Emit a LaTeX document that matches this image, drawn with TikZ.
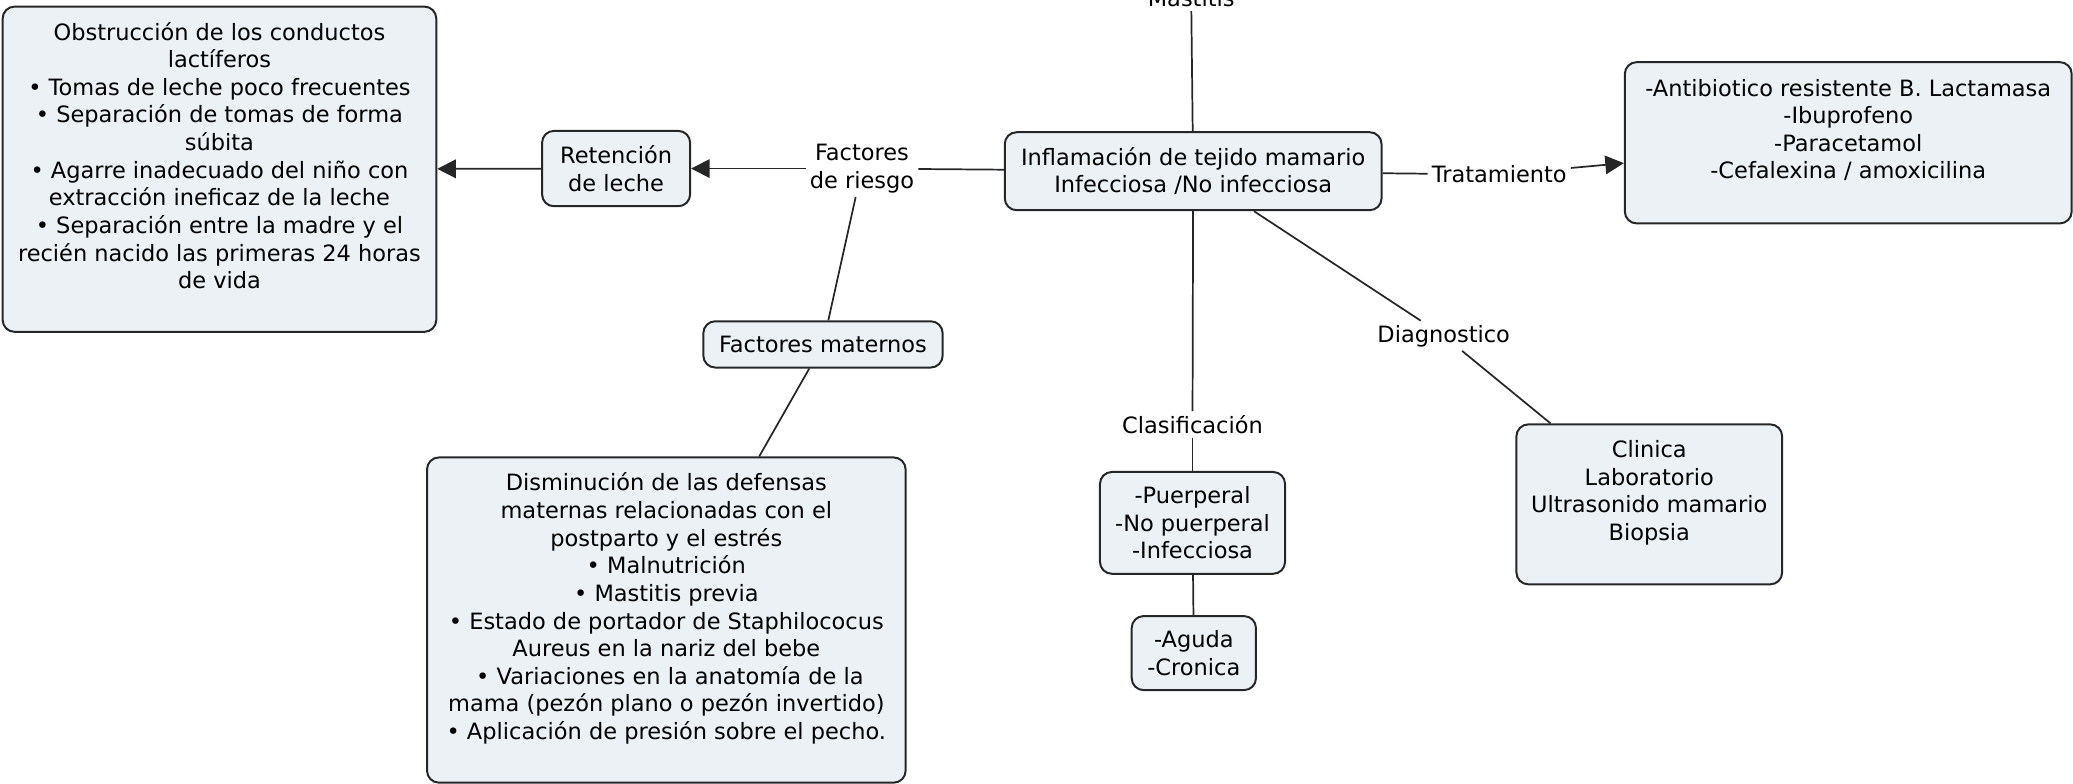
\documentclass[tikz,border=0pt]{standalone}
\usepackage{fontspec}
\setmainfont{DejaVu Sans}
\usetikzlibrary{arrows.meta}
\definecolor{cajafill}{RGB}{235,241,244}

\begin{document}
\begin{tikzpicture}[x=1pt,y=1pt,
	caja/.style={draw=black!85,line width=1.5pt,fill=cajafill,rounded corners=9pt,align=center,inner sep=2pt,font=\fontsize{17}{20.9}\selectfont},
	enlace/.style={inner sep=3pt,align=center,font=\fontsize{17}{20.9}\selectfont},
	linea/.style={line width=1.3pt,draw=black!85},
	flecha/.style={linea,-{Triangle[length=14pt,width=14pt]}}]
				\useasboundingbox (0,0) rectangle (1568,-593);
				\node[caja,minimum width=328pt,minimum height=246pt] (obstruccion) at (166,-128) {Obstrucción de los conductos\\lactíferos\\• Tomas de leche poco frecuentes\\• Separación de tomas de forma\\súbita\\• Agarre inadecuado del niño con\\extracción ineficaz de la leche\\• Separación entre la madre y el\\recién nacido las primeras 24 horas\\de vida\\~};
				\node[caja,minimum width=112pt,minimum height=57pt] (retencion) at (466,-127.5) {Retención\\de leche};
				\node[enlace] (riesgo) at (652,-127.5) {Factores\\de riesgo};
				\node[caja,minimum width=181pt,minimum height=35pt] (maternos) at (622.5,-260.5) {Factores maternos};
				\node[caja,minimum width=362pt,minimum height=246pt] (defensas) at (504,-469) {Disminución de las defensas\\maternas relacionadas con el\\postparto y el estrés\\• Malnutrición\\• Mastitis previa\\• Estado de portador de Staphilococus\\Aureus en la nariz del bebe\\~• Variaciones en la anatomía de la\\mama (pezón plano o pezón invertido)\\• Aplicación de presión sobre el pecho.\\~};
				\node[caja,minimum width=285pt,minimum height=59pt] (inflamacion) at (902.5,-129.5) {Inflamación de tejido mamario\\Infecciosa /No infecciosa};
				\node[enlace,anchor=base] (mastitis) at (901,-5) {Mastitis};
				\node[enlace] (tratamiento) at (1134,-132) {Tratamiento};
				\node[caja,minimum width=338pt,minimum height=122pt] (antibiotico) at (1398,-108) {-Antibiotico resistente B. Lactamasa\\-Ibuprofeno\\-Paracetamol\\-Cefalexina / amoxicilina\\~};
				\node[enlace] (clasificacion) at (902,-321) {Clasificación};
				\node[caja,minimum width=140pt,minimum height=77pt] (puerperal) at (902,-395.5) {-Puerperal\\-No puerperal\\-Infecciosa};
				\node[caja,minimum width=94pt,minimum height=56pt] (aguda) at (903,-494) {-Aguda\\-Cronica};
				\node[enlace] (diagnostico) at (1092,-254) {Diagnostico};
				\node[caja,minimum width=201pt,minimum height=121pt] (clinica) at (1247.5,-381.5) {Clinica\\Laboratorio\\Ultrasonido mamario\\Biopsia\\~};
				\draw[flecha] (riesgo)--(retencion);
				\draw[flecha] (retencion)--(obstruccion);
				\draw[linea] (inflamacion)--(riesgo);
				\draw[linea] (riesgo)--(maternos);
				\draw[linea] (maternos)--(defensas);
				\draw[linea] (inflamacion)--(mastitis);
				\draw[linea] (inflamacion)--(tratamiento);
				\draw[flecha] (tratamiento)--(antibiotico);
				\draw[linea] (inflamacion)--(clasificacion);
				\draw[linea] (clasificacion)--(puerperal);
				\draw[linea] (puerperal)--(aguda);
				\draw[linea] (inflamacion)--(diagnostico);
				\draw[linea] (diagnostico)--(clinica);
			\end{tikzpicture}
\end{document}
